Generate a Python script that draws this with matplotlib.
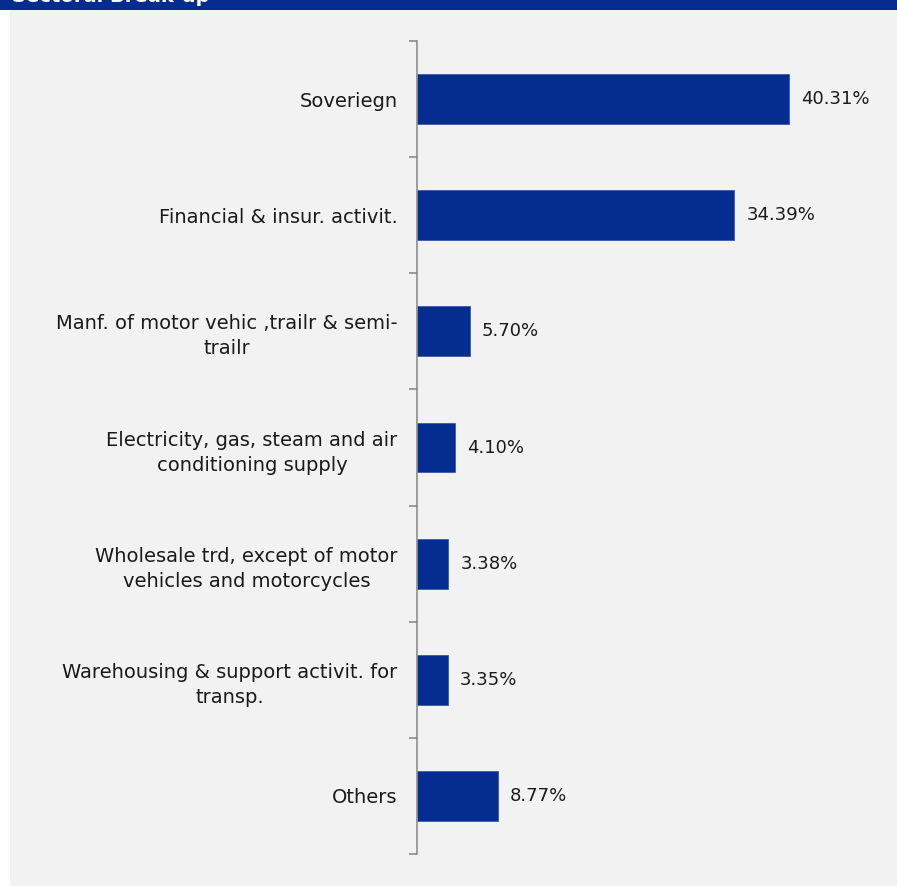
import matplotlib.pyplot as plt
from matplotlib.patches import Rectangle

categories = [
    "Soveriegn",
    "Financial & insur. activit.",
    "Manf. of motor vehic ,trailr & semi-\ntrailr",
    "Electricity, gas, steam and air\nconditioning supply",
    "Wholesale trd, except of motor\nvehicles and motorcycles",
    "Warehousing & support activit. for\ntransp.",
    "Others",
]
shares = [40.31, 34.39, 5.70, 4.10, 3.38, 3.35, 8.77]

W, H = 897, 886
fig = plt.figure(figsize=(W / 100, H / 100), dpi=100, facecolor="white")

# grey panel and header strip behind the axes
fig.patches.append(Rectangle((10 / W, 0), 1 - 10 / W, 1 - 10 / H,
                             transform=fig.transFigure, facecolor="#f2f2f2",
                             edgecolor="none", zorder=-10))
fig.patches.append(Rectangle((0, 1 - 10 / H), 1, 10 / H,
                             transform=fig.transFigure, facecolor="#052d8f",
                             edgecolor="none", zorder=-10))
fig.text(12 / W, 1 + 3.5 / H, "Sectoral Break-up", color="white",
         fontsize=14, fontweight="bold", va="center", ha="left", zorder=-5)

ax = fig.add_axes([417 / W, (H - 854) / H, 480 / W, (854 - 41) / H])
ax.set_facecolor("none")

y = list(range(len(categories)))
ax.barh(y, shares, height=0.43, color="#052d8f", edgecolor="#3a5aa8",
        linewidth=0.6)
for yi, v in zip(y, shares):
    ax.text(v + 1.3, yi, f"{v:.2f}%", va="center", ha="left",
            fontsize=13, color="#1a1a1a")

ax.set_xlim(0, 52)
ax.set_ylim(len(categories) - 0.5, -0.5)
ax.set_yticks(y)
ax.set_yticklabels(categories, fontsize=14, color="#1a1a1a",
                   multialignment="center", linespacing=1.4)
ax.set_yticks([i - 0.5 for i in range(len(categories) + 1)], minor=True)
ax.tick_params(axis="y", which="major", length=0, pad=14)
ax.tick_params(axis="y", which="minor", length=6, width=1.2, color="#8c8c8c")
ax.set_xticks([])
for s in ["top", "right", "bottom"]:
    ax.spines[s].set_visible(False)
ax.spines["left"].set_color("#8c8c8c")
ax.spines["left"].set_linewidth(1.2)

fig.savefig("out.png", dpi=100, facecolor=fig.get_facecolor())
